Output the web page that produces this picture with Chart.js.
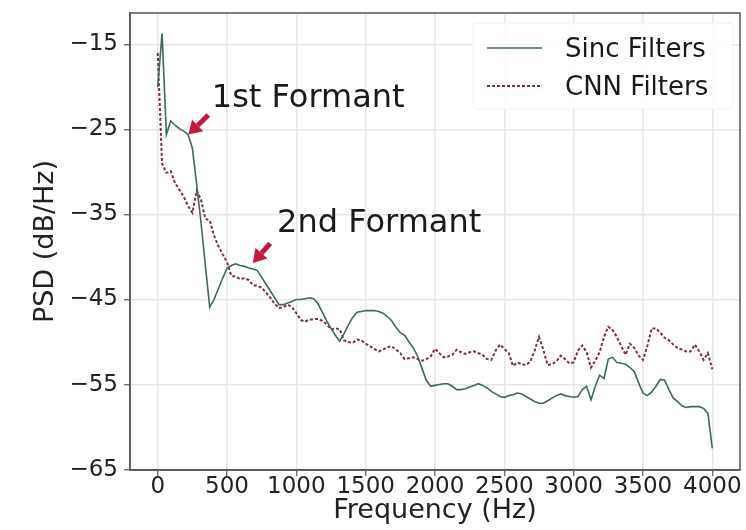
<!DOCTYPE html>
<html><head><meta charset="utf-8">
<script src="https://cdn.jsdelivr.net/npm/chart.js@4/dist/chart.umd.min.js"></script>
<style>html,body{margin:0;padding:0;background:#fff}#wrap{width:746px;height:530px}</style>
</head><body><div id="wrap"><canvas id="c" width="746" height="530"></canvas></div>
<script>
// ---- data ----
const binHz = 31.25; // frequency bin width (Hz)
const seriesNames = ['Sinc Filters', 'CNN Filters'];
const sincPSD = [
 -20.0,-13.7,-25.6,-24.0,-24.5,-24.9,-25.2,-25.6,-27.2,-31.5,
 -36.0,-41.0,-45.9,-45.0,-43.7,-42.5,-41.3,-41.0,-40.8,-41.0,
 -41.1,-41.3,-41.4,-41.6,-42.4,-43.2,-44.0,-44.8,-45.6,-45.6,
 -45.4,-45.2,-45.0,-45.0,-44.9,-44.8,-44.9,-45.5,-46.5,-47.5,
 -48.4,-49.2,-49.9,-49.0,-48.0,-47.1,-46.5,-46.4,-46.3,-46.3,
 -46.3,-46.4,-46.6,-47.0,-47.5,-48.3,-48.9,-49.2,-50.0,-50.7,
 -51.7,-53.1,-54.5,-55.2,-55.1,-55.0,-54.9,-54.9,-55.2,-55.6,
 -55.6,-55.5,-55.3,-55.1,-54.9,-55.1,-55.4,-55.8,-56.1,-56.4,
 -56.5,-56.3,-56.2,-56.0,-56.1,-56.4,-56.7,-57.0,-57.2,-57.2,
 -56.9,-56.6,-56.3,-56.1,-56.3,-56.4,-56.5,-56.4,-55.6,-55.2,
 -56.8,-55.2,-53.9,-54.3,-52.0,-51.8,-52.4,-52.5,-52.6,-53.0,
 -53.5,-54.8,-56.0,-56.3,-55.9,-55.2,-54.4,-54.5,-55.6,-56.6,
 -57.0,-57.5,-57.7,-57.6,-57.6,-57.6,-57.8,-58.4,-62.5
];
const cnnPSD = [
 -16.0,-29.0,-30.1,-29.9,-31.3,-32.1,-32.9,-34.0,-34.8,-32.2,
 -33.3,-35.5,-35.7,-37.5,-38.7,-39.7,-40.6,-42.2,-42.3,-42.6,
 -42.5,-42.7,-43.3,-43.4,-43.6,-44.2,-44.8,-45.5,-46.0,-45.9,
 -45.6,-45.9,-46.6,-47.4,-47.6,-47.4,-47.3,-47.3,-47.5,-47.9,
 -48.5,-48.4,-48.5,-49.8,-50.0,-50.1,-49.7,-49.8,-50.2,-50.5,
 -50.8,-51.1,-50.9,-50.6,-50.5,-50.9,-51.3,-52.0,-51.9,-51.8,
 -52.0,-52.2,-52.0,-51.7,-50.8,-51.3,-51.8,-51.7,-51.5,-50.9,
 -51.2,-51.4,-51.2,-51.1,-51.3,-51.5,-52.0,-52.1,-51.0,-50.3,
 -50.8,-51.3,-52.8,-52.4,-52.6,-52.7,-52.3,-51.0,-49.4,-50.9,
 -52.7,-52.6,-52.3,-51.6,-52.0,-52.5,-52.4,-51.0,-50.4,-51.2,
 -53.0,-52.2,-51.2,-49.4,-48.2,-48.6,-49.4,-50.5,-51.5,-50.2,
 -50.7,-51.6,-52.1,-50.5,-48.4,-48.4,-48.9,-49.5,-49.8,-50.3,
 -50.7,-50.9,-51.1,-51.1,-50.3,-51.1,-52.1,-51.3,-53.2
];
const xTickValues = [0, 500, 1000, 1500, 2000, 2500, 3000, 3500, 4000];
const yTickValues = [-65, -55, -45, -35, -25, -15];
const xTitle = 'Frequency (Hz)';
const yTitle = 'PSD (dB/Hz)';
const annotationTexts = ['1st Formant', '2nd Formant'];
const annotationTips = [[221, -25.6], [686, -40.7]];     // arrow tip (Hz, dB)
const annotationTails = [[365, -23.3], [811, -38.4]];    // arrow tail (Hz, dB)
const annotationLabels = [[390, -22.3], [861, -37.1]];   // label anchor (Hz, dB)

// ---- styles ----
const FONT = "'DejaVu Sans', sans-serif";
const sincColor = '#3d6a5e';
const cnnColor = '#7a3346';
const cnnDash = [3, 2];

const toXY = arr => arr.map((v, i) => ({ x: i * binHz, y: v }));

const overlay = {
  id: 'overlay',
  afterDraw(chart) {
    const { ctx, chartArea: a, scales: { x, y } } = chart;
    ctx.save();
    // frame
    ctx.strokeStyle = '#555';
    ctx.lineWidth = 1.5;
    ctx.strokeRect(a.left, a.top, a.right - a.left, a.bottom - a.top);
    // legend
    const lx = 473, ly = 23, lw = 260, lh = 86;
    ctx.fillStyle = 'rgba(255,255,255,0.85)';
    ctx.strokeStyle = '#f0f0f0';
    ctx.lineWidth = 1;
    ctx.beginPath();
    ctx.roundRect(lx, ly, lw, lh, 4);
    ctx.fill(); ctx.stroke();
    const rows = [48, 86];
    chart.data.datasets.forEach((ds, k) => {
      ctx.strokeStyle = ds.borderColor;
      ctx.lineWidth = ds.borderWidth;
      ctx.setLineDash(ds.borderDash || []);
      ctx.beginPath();
      ctx.moveTo(487, rows[k]); ctx.lineTo(542, rows[k]);
      ctx.stroke();
      ctx.setLineDash([]);
      ctx.fillStyle = '#1a1a1a';
      ctx.font = '26px ' + FONT;
      ctx.textBaseline = 'alphabetic';
      ctx.textAlign = 'left';
      ctx.fillText(ds.label, 565, rows[k] + 8.5);
    });
    // annotations
    annotationTexts.forEach((t, k) => {
      const tx = x.getPixelForValue(annotationTips[k][0]);
      const ty = y.getPixelForValue(annotationTips[k][1]);
      const sx = x.getPixelForValue(annotationTails[k][0]);
      const sy = y.getPixelForValue(annotationTails[k][1]);
      const ang = Math.atan2(ty - sy, tx - sx);
      const headLen = 13, headW = 8;
      const bx = tx - headLen * Math.cos(ang), by = ty - headLen * Math.sin(ang);
      ctx.strokeStyle = '#c2173f';
      ctx.fillStyle = '#c2173f';
      ctx.lineWidth = 5;
      ctx.lineCap = 'butt';
      ctx.beginPath(); ctx.moveTo(sx, sy); ctx.lineTo(bx, by); ctx.stroke();
      ctx.beginPath();
      ctx.moveTo(tx, ty);
      ctx.lineTo(bx + headW * Math.sin(ang), by - headW * Math.cos(ang));
      ctx.lineTo(bx - headW * Math.sin(ang), by + headW * Math.cos(ang));
      ctx.closePath(); ctx.fill();
      ctx.fillStyle = '#1a1a1a';
      ctx.font = '32px ' + FONT;
      ctx.textAlign = 'left';
      ctx.textBaseline = 'alphabetic';
      ctx.fillText(t, x.getPixelForValue(annotationLabels[k][0]), y.getPixelForValue(annotationLabels[k][1]));
    });
    ctx.restore();
  }
};

new Chart(document.getElementById('c'), {
  type: 'line',
  data: {
    datasets: [
      { label: seriesNames[0], data: toXY(sincPSD), borderColor: sincColor, borderWidth: 1.6,
        pointRadius: 0, tension: 0, fill: false },
      { label: seriesNames[1], data: toXY(cnnPSD), borderColor: cnnColor, borderWidth: 2,
        borderDash: cnnDash, pointRadius: 0, tension: 0, fill: false }
    ]
  },
  options: {
    responsive: false, animation: false, devicePixelRatio: 1,
    layout: { padding: { left: 0, right: 6, top: 13, bottom: 0 } },
    plugins: { legend: { display: false }, tooltip: { enabled: false } },
    scales: {
      x: {
        type: 'linear', min: -200, max: 4200,
        afterBuildTicks: s => { s.ticks = xTickValues.map(v => ({ value: v })); },
        afterFit: s => { s.height = 60; s.paddingLeft = 0; s.paddingRight = 0; },
        ticks: { autoSkip: false, maxRotation: 0, padding: 0, color: '#222',
                 font: { family: FONT, size: 23, lineHeight: 1.0 },
                 callback: v => String(v) },
        grid: { color: '#e6e6e6', lineWidth: 1.5, tickLength: 6, tickColor: '#555', tickWidth: 1.2 },
        border: { display: true, color: '#555', width: 1.5 },
        title: { display: true, text: xTitle, color: '#222',
                 font: { family: FONT, size: 27 }, padding: { top: 0, bottom: 3 } }
      },
      y: {
        type: 'linear', min: -65.05, max: -11.3,
        afterBuildTicks: s => { s.ticks = yTickValues.map(v => ({ value: v })); },
        afterFit: s => { s.width = 130; s.paddingTop = 0; s.paddingBottom = 0; },
        ticks: { padding: 6, color: '#222', font: { family: FONT, size: 23 },
                 callback: v => String(v).replace('-', '\u2212') },
        grid: { color: '#e6e6e6', lineWidth: 1.5, tickLength: 6, tickColor: '#555', tickWidth: 1.2 },
        border: { display: true, color: '#555', width: 1.5 },
        title: { display: true, text: yTitle, color: '#222',
                 font: { family: FONT, size: 27 }, padding: { top: 30, bottom: 0 } }
      }
    }
  },
  plugins: [overlay]
});
</script></body></html>
